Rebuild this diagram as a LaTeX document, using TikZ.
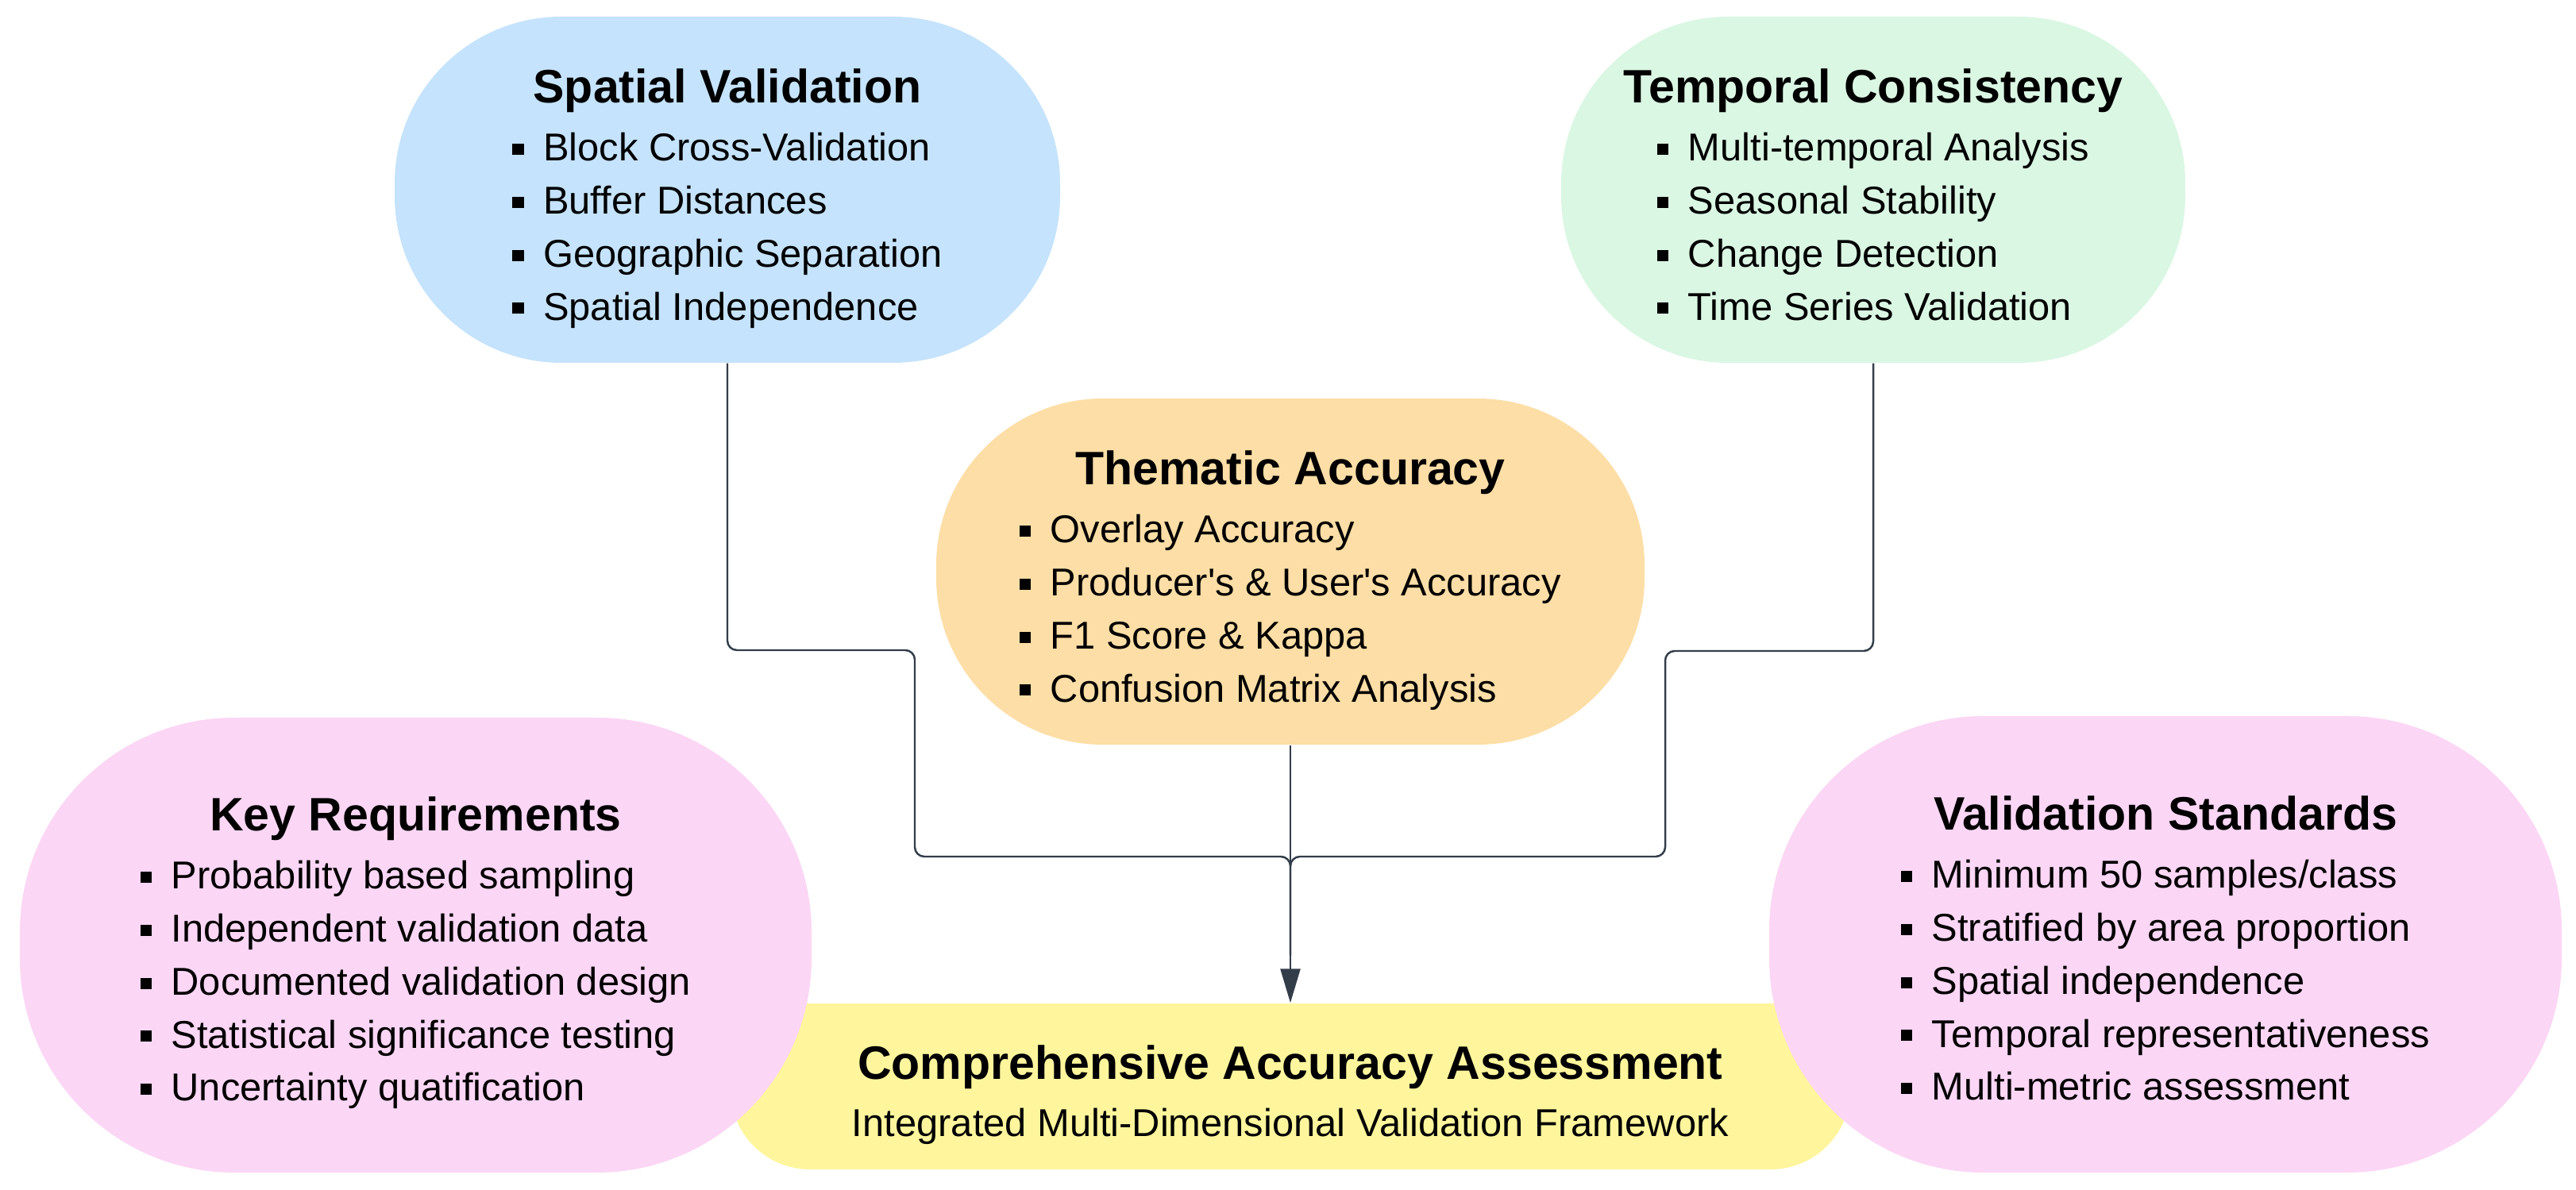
\documentclass[tikz,border=0pt]{standalone}
\usepackage{fontspec}
\setmainfont{Liberation Sans}
\usetikzlibrary{arrows.meta}
\definecolor{spatialblue}{HTML}{C5E3FC}
\definecolor{temporalgreen}{HTML}{DAF7E3}
\definecolor{thematicorange}{HTML}{FDDEA6}
\definecolor{reqpink}{HTML}{FCD6F5}
\definecolor{finalyellow}{HTML}{FEF59D}
\definecolor{linkgray}{HTML}{333D4A}
\newcommand{\hd}[1]{{\fontsize{16.8}{20}\selectfont\bfseries #1}}
\newcommand{\sq}{\rule[0.3ex]{4pt}{4pt}\hspace{7pt}}
\newcommand{\pilltext}[2]{\hd{#1}\\[1.8pt]\begin{tabular}[t]{@{}l@{}}#2\end{tabular}}

\begin{document}
\begin{tikzpicture}[
  pill/.style={inner sep=0pt},
  pilltxt/.style={inner sep=0pt, align=center, font=\fontsize{13.9}{19}\selectfont},
  feed/.style={draw=linkgray, line width=0.7pt, rounded corners=0.12cm}]
  \useasboundingbox (0,0) rectangle (32.44,-14.99);

  % Final assessment (under the pink boxes)
  \node[pill, fill=finalyellow, minimum width=14.1cm, minimum height=2.09cm, rounded corners=1.0cm] (caa) at (16.25,-13.685) {};
  \node[pilltxt] (caa-txt) at ([yshift=-1.1mm]caa.center)
    {\hd{Comprehensive Accuracy Assessment}\\[1.5pt]Integrated Multi-Dimensional Validation Framework};

  % Three validation dimensions
  \node[pill, fill=spatialblue, minimum width=8.38cm, minimum height=4.36cm, rounded corners=2.1cm] (sv) at (9.16,-2.39) {};
  \node[pilltxt] (sv-txt) at ([yshift=-1.6mm]sv.center)
    {\pilltext{Spatial Validation}{\sq Block Cross-Validation\\ \sq Buffer Distances\\ \sq Geographic Separation\\ \sq Spatial Independence}};
  \node[pill, fill=temporalgreen, minimum width=7.86cm, minimum height=4.36cm, rounded corners=2.1cm] (tc) at (23.59,-2.39) {};
  \node[pilltxt] (tc-txt) at ([yshift=-1.6mm]tc.center)
    {\pilltext{Temporal Consistency}{\sq Multi-temporal Analysis\\ \sq Seasonal Stability\\ \sq Change Detection\\ \sq Time Series Validation}};
  \node[pill, fill=thematicorange, minimum width=8.92cm, minimum height=4.36cm, rounded corners=2.1cm] (ta) at (16.25,-7.20) {};
  \node[pilltxt] (ta-txt) at ([yshift=-1.6mm]ta.center)
    {\pilltext{Thematic Accuracy}{\sq Overlay Accuracy\\ \sq Producer\textquotesingle s \& User\textquotesingle s Accuracy\\ \sq F1 Score \& Kappa\\ \sq Confusion Matrix Analysis}};

  % Side notes
  \node[pill, fill=reqpink, minimum width=9.97cm, minimum height=5.73cm, rounded corners=2.7cm] (kr) at (5.235,-11.905) {};
  \node[pilltxt] (kr-txt) at ([yshift=-1.5mm]kr.center)
    {\pilltext{Key Requirements}{\sq Probability based sampling\\ \sq Independent validation data\\ \sq Documented validation design\\ \sq Statistical significance testing\\ \sq Uncertainty quatification}};
  \node[pill, fill=reqpink, minimum width=9.98cm, minimum height=5.75cm, rounded corners=2.7cm] (vs) at (27.27,-11.895) {};
  \node[pilltxt] (vs-txt) at ([yshift=-1.5mm]vs.center)
    {\pilltext{Validation Standards}{\sq Minimum 50 samples/class\\ \sq Stratified by area proportion\\ \sq Spatial independence\\ \sq Temporal representativeness\\ \sq Multi-metric assessment}};

  % Connectors
  \coordinate (merge) at (16.25,-10.79);
  \draw[feed] (sv.south) |- (11.52,-8.19) |- (merge) -- ([yshift=6mm]caa.north);
  \draw[feed] (tc.south) |- (20.97,-8.20) |- (merge) -- ([yshift=6mm]caa.north);
  \draw[feed, -{Triangle[length=0.43cm, width=0.25cm]}] (ta.south) -- (caa.north);
\end{tikzpicture}
\end{document}
